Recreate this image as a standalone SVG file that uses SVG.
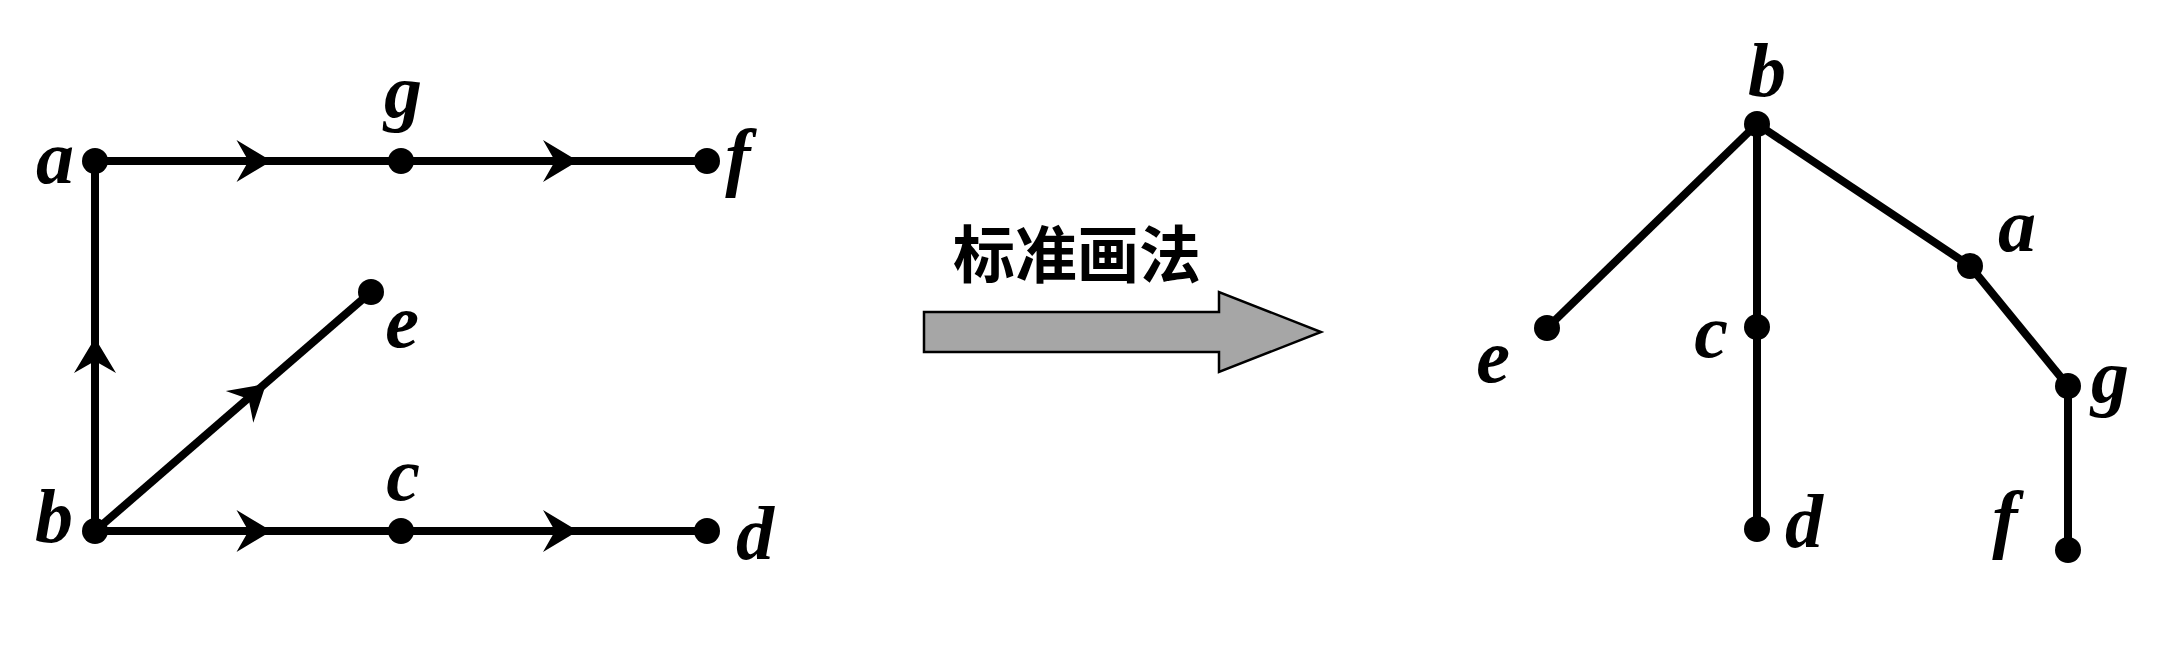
<svg xmlns="http://www.w3.org/2000/svg" xmlns:xlink="http://www.w3.org/1999/xlink" width="2180" height="650" viewBox="0 0 2180 650">
<style>
.edge{stroke:#000;stroke-width:8;fill:none;stroke-linecap:butt}
.dot{fill:#000}
.lbl{font-family:"Liberation Serif","Times New Roman",serif;font-style:italic;font-weight:bold;font-size:76px;fill:#000;text-anchor:middle}
.cjk{font-family:"Noto Sans CJK SC","Noto Sans",sans-serif;font-weight:bold;font-size:62px;fill:#000;text-anchor:middle}
</style>
<defs>
<path id="ah" d="M0,0 L-35,-21 L-23,0 L-35,21 Z" fill="#000"/>
</defs>
<rect width="2180" height="650" fill="#fff"/>
<g id="connectors">
<line class="edge" x1="95" y1="161" x2="707" y2="161"/>
<line class="edge" x1="95" y1="531" x2="707" y2="531"/>
<line class="edge" x1="95" y1="161" x2="95" y2="531"/>
<line class="edge" x1="95" y1="531" x2="371" y2="292"/>
<use xlink:href="#ah" transform="translate(271.5,161)"/>
<use xlink:href="#ah" transform="translate(578,161)"/>
<use xlink:href="#ah" transform="translate(271.5,531)"/>
<use xlink:href="#ah" transform="translate(578,531)"/>
<use xlink:href="#ah" transform="translate(95,338) rotate(-90)"/>
<use xlink:href="#ah" transform="translate(266,384) rotate(-40.9)"/>
<line class="edge" x1="1757" y1="124" x2="1547" y2="328"/>
<line class="edge" x1="1757" y1="124" x2="1757" y2="529"/>
<line class="edge" x1="1757" y1="124" x2="1970" y2="266"/>
<line class="edge" x1="1970" y1="266" x2="2068" y2="386"/>
<line class="edge" x1="2068" y1="386" x2="2068" y2="550"/>
</g>
<g id="L_a"><circle class="dot" cx="95" cy="161" r="13"/><text class="lbl" x="55" y="183">a</text></g>
<g id="L_g"><circle class="dot" cx="401" cy="161" r="13"/><text class="lbl" x="403" y="117">g</text></g>
<g id="L_f"><circle class="dot" cx="707" cy="161" r="13"/><text class="lbl" x="738" y="182">f</text></g>
<g id="L_e"><circle class="dot" cx="371" cy="292" r="13"/><text class="lbl" x="402" y="347">e</text></g>
<g id="L_b"><circle class="dot" cx="95" cy="531" r="13"/><text class="lbl" x="54" y="542">b</text></g>
<g id="L_c"><circle class="dot" cx="401" cy="531" r="13"/><text class="lbl" x="403" y="500">c</text></g>
<g id="L_d"><circle class="dot" cx="707" cy="531" r="13"/><text class="lbl" x="755" y="559">d</text></g>
<g id="transform">
<text class="cjk" x="1077" y="278">标准画法</text>
<polygon points="924,312 1219,312 1219,292 1321,332 1219,372 1219,352 924,352" fill="#a6a6a6" stroke="#000" stroke-width="2.5" stroke-linejoin="miter"/>
</g>
<g id="R_b"><circle class="dot" cx="1757" cy="124" r="13"/><text class="lbl" x="1767" y="96">b</text></g>
<g id="R_a"><circle class="dot" cx="1970" cy="266" r="13"/><text class="lbl" x="2017" y="251">a</text></g>
<g id="R_e"><circle class="dot" cx="1547" cy="328" r="13"/><text class="lbl" x="1493" y="382">e</text></g>
<g id="R_c"><circle class="dot" cx="1757" cy="327" r="13"/><text class="lbl" x="1711" y="357">c</text></g>
<g id="R_g"><circle class="dot" cx="2068" cy="386" r="13"/><text class="lbl" x="2110" y="402">g</text></g>
<g id="R_d"><circle class="dot" cx="1757" cy="529" r="13"/><text class="lbl" x="1804" y="547">d</text></g>
<g id="R_f"><circle class="dot" cx="2068" cy="550" r="13"/><text class="lbl" x="2005" y="544">f</text></g>
</svg>
